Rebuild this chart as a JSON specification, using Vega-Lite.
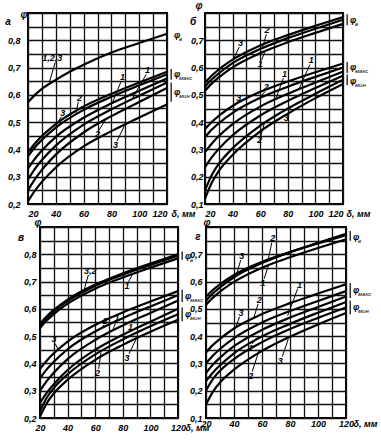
{
"$schema":"https://vega.github.io/schema/vega-lite/v6.json",
"padding":{"left":4,"top":0,"right":2,"bottom":2},
"background":"white",
"datasets":{
"curves":[
{"p":"a","c":"v","x":20,"y":0.573},{"p":"a","c":"v","x":25,"y":0.6},{"p":"a","c":"v","x":30,"y":0.622},{"p":"a","c":"v","x":40,"y":0.655},{"p":"a","c":"v","x":60,"y":0.71},{"p":"a","c":"v","x":80,"y":0.755},{"p":"a","c":"v","x":100,"y":0.79},{"p":"a","c":"v","x":120,"y":0.824},
{"p":"a","c":"M3","x":20,"y":0.39},{"p":"a","c":"M3","x":25,"y":0.422},{"p":"a","c":"M3","x":30,"y":0.449},{"p":"a","c":"M3","x":40,"y":0.493},{"p":"a","c":"M3","x":60,"y":0.557},{"p":"a","c":"M3","x":80,"y":0.604},{"p":"a","c":"M3","x":100,"y":0.645},{"p":"a","c":"M3","x":120,"y":0.685},
{"p":"a","c":"M2","x":20,"y":0.375},{"p":"a","c":"M2","x":25,"y":0.408},{"p":"a","c":"M2","x":30,"y":0.435},{"p":"a","c":"M2","x":40,"y":0.48},{"p":"a","c":"M2","x":60,"y":0.545},{"p":"a","c":"M2","x":80,"y":0.593},{"p":"a","c":"M2","x":100,"y":0.635},{"p":"a","c":"M2","x":120,"y":0.675},
{"p":"a","c":"M1","x":20,"y":0.33},{"p":"a","c":"M1","x":25,"y":0.366},{"p":"a","c":"M1","x":30,"y":0.396},{"p":"a","c":"M1","x":40,"y":0.446},{"p":"a","c":"M1","x":60,"y":0.516},{"p":"a","c":"M1","x":80,"y":0.569},{"p":"a","c":"M1","x":100,"y":0.615},{"p":"a","c":"M1","x":120,"y":0.66},
{"p":"a","c":"m1","x":20,"y":0.29},{"p":"a","c":"m1","x":25,"y":0.329},{"p":"a","c":"m1","x":30,"y":0.361},{"p":"a","c":"m1","x":40,"y":0.414},{"p":"a","c":"m1","x":60,"y":0.491},{"p":"a","c":"m1","x":80,"y":0.547},{"p":"a","c":"m1","x":100,"y":0.597},{"p":"a","c":"m1","x":120,"y":0.645},
{"p":"a","c":"m2","x":20,"y":0.25},{"p":"a","c":"m2","x":25,"y":0.291},{"p":"a","c":"m2","x":30,"y":0.325},{"p":"a","c":"m2","x":40,"y":0.381},{"p":"a","c":"m2","x":60,"y":0.462},{"p":"a","c":"m2","x":80,"y":0.522},{"p":"a","c":"m2","x":100,"y":0.574},{"p":"a","c":"m2","x":120,"y":0.625},
{"p":"a","c":"m3","x":20,"y":0.21},{"p":"a","c":"m3","x":25,"y":0.249},{"p":"a","c":"m3","x":30,"y":0.281},{"p":"a","c":"m3","x":40,"y":0.334},{"p":"a","c":"m3","x":60,"y":0.411},{"p":"a","c":"m3","x":80,"y":0.467},{"p":"a","c":"m3","x":100,"y":0.517},{"p":"a","c":"m3","x":120,"y":0.565},
{"p":"b","c":"v3","x":20,"y":0.545},{"p":"b","c":"v3","x":25,"y":0.571},{"p":"b","c":"v3","x":30,"y":0.593},{"p":"b","c":"v3","x":40,"y":0.629},{"p":"b","c":"v3","x":60,"y":0.681},{"p":"b","c":"v3","x":80,"y":0.719},{"p":"b","c":"v3","x":100,"y":0.753},{"p":"b","c":"v3","x":120,"y":0.785},
{"p":"b","c":"v2","x":20,"y":0.53},{"p":"b","c":"v2","x":25,"y":0.557},{"p":"b","c":"v2","x":30,"y":0.579},{"p":"b","c":"v2","x":40,"y":0.616},{"p":"b","c":"v2","x":60,"y":0.668},{"p":"b","c":"v2","x":80,"y":0.708},{"p":"b","c":"v2","x":100,"y":0.742},{"p":"b","c":"v2","x":120,"y":0.775},
{"p":"b","c":"v1","x":20,"y":0.515},{"p":"b","c":"v1","x":25,"y":0.542},{"p":"b","c":"v1","x":30,"y":0.564},{"p":"b","c":"v1","x":40,"y":0.601},{"p":"b","c":"v1","x":60,"y":0.653},{"p":"b","c":"v1","x":80,"y":0.693},{"p":"b","c":"v1","x":100,"y":0.727},{"p":"b","c":"v1","x":120,"y":0.76},
{"p":"b","c":"M3","x":20,"y":0.375},{"p":"b","c":"M3","x":25,"y":0.401},{"p":"b","c":"M3","x":30,"y":0.423},{"p":"b","c":"M3","x":40,"y":0.459},{"p":"b","c":"M3","x":60,"y":0.511},{"p":"b","c":"M3","x":80,"y":0.549},{"p":"b","c":"M3","x":100,"y":0.583},{"p":"b","c":"M3","x":120,"y":0.615},
{"p":"b","c":"M2","x":20,"y":0.345},{"p":"b","c":"M2","x":25,"y":0.373},{"p":"b","c":"M2","x":30,"y":0.396},{"p":"b","c":"M2","x":40,"y":0.434},{"p":"b","c":"M2","x":60,"y":0.489},{"p":"b","c":"M2","x":80,"y":0.53},{"p":"b","c":"M2","x":100,"y":0.566},{"p":"b","c":"M2","x":120,"y":0.6},
{"p":"b","c":"M1","x":20,"y":0.29},{"p":"b","c":"M1","x":25,"y":0.322},{"p":"b","c":"M1","x":30,"y":0.349},{"p":"b","c":"M1","x":40,"y":0.393},{"p":"b","c":"M1","x":60,"y":0.457},{"p":"b","c":"M1","x":80,"y":0.504},{"p":"b","c":"M1","x":100,"y":0.545},{"p":"b","c":"M1","x":120,"y":0.585},
{"p":"b","c":"m1","x":20,"y":0.235},{"p":"b","c":"m1","x":25,"y":0.272},{"p":"b","c":"m1","x":30,"y":0.302},{"p":"b","c":"m1","x":40,"y":0.352},{"p":"b","c":"m1","x":60,"y":0.424},{"p":"b","c":"m1","x":80,"y":0.478},{"p":"b","c":"m1","x":100,"y":0.525},{"p":"b","c":"m1","x":120,"y":0.57},
{"p":"b","c":"m2","x":20,"y":0.15},{"p":"b","c":"m2","x":25,"y":0.207},{"p":"b","c":"m2","x":30,"y":0.247},{"p":"b","c":"m2","x":40,"y":0.304},{"p":"b","c":"m2","x":60,"y":0.387},{"p":"b","c":"m2","x":80,"y":0.45},{"p":"b","c":"m2","x":100,"y":0.504},{"p":"b","c":"m2","x":120,"y":0.555},
{"p":"b","c":"m3","x":20,"y":0.12},{"p":"b","c":"m3","x":25,"y":0.179},{"p":"b","c":"m3","x":30,"y":0.221},{"p":"b","c":"m3","x":40,"y":0.28},{"p":"b","c":"m3","x":60,"y":0.366},{"p":"b","c":"m3","x":80,"y":0.431},{"p":"b","c":"m3","x":100,"y":0.488},{"p":"b","c":"m3","x":120,"y":0.54},
{"p":"c","c":"v3","x":20,"y":0.545},{"p":"c","c":"v3","x":25,"y":0.573},{"p":"c","c":"v3","x":30,"y":0.596},{"p":"c","c":"v3","x":40,"y":0.634},{"p":"c","c":"v3","x":60,"y":0.689},{"p":"c","c":"v3","x":80,"y":0.73},{"p":"c","c":"v3","x":100,"y":0.766},{"p":"c","c":"v3","x":120,"y":0.8},
{"p":"c","c":"v2","x":20,"y":0.54},{"p":"c","c":"v2","x":25,"y":0.568},{"p":"c","c":"v2","x":30,"y":0.591},{"p":"c","c":"v2","x":40,"y":0.629},{"p":"c","c":"v2","x":60,"y":0.684},{"p":"c","c":"v2","x":80,"y":0.725},{"p":"c","c":"v2","x":100,"y":0.761},{"p":"c","c":"v2","x":120,"y":0.795},
{"p":"c","c":"v1","x":20,"y":0.53},{"p":"c","c":"v1","x":25,"y":0.558},{"p":"c","c":"v1","x":30,"y":0.581},{"p":"c","c":"v1","x":40,"y":0.619},{"p":"c","c":"v1","x":60,"y":0.674},{"p":"c","c":"v1","x":80,"y":0.715},{"p":"c","c":"v1","x":100,"y":0.751},{"p":"c","c":"v1","x":120,"y":0.785},
{"p":"c","c":"M3","x":20,"y":0.38},{"p":"c","c":"M3","x":25,"y":0.411},{"p":"c","c":"M3","x":30,"y":0.437},{"p":"c","c":"M3","x":40,"y":0.48},{"p":"c","c":"M3","x":60,"y":0.541},{"p":"c","c":"M3","x":80,"y":0.587},{"p":"c","c":"M3","x":100,"y":0.627},{"p":"c","c":"M3","x":120,"y":0.665},
{"p":"c","c":"M2","x":20,"y":0.345},{"p":"c","c":"M2","x":25,"y":0.379},{"p":"c","c":"M2","x":30,"y":0.406},{"p":"c","c":"M2","x":40,"y":0.452},{"p":"c","c":"M2","x":60,"y":0.517},{"p":"c","c":"M2","x":80,"y":0.566},{"p":"c","c":"M2","x":100,"y":0.609},{"p":"c","c":"M2","x":120,"y":0.65},
{"p":"c","c":"M1","x":20,"y":0.3},{"p":"c","c":"M1","x":25,"y":0.336},{"p":"c","c":"M1","x":30,"y":0.366},{"p":"c","c":"M1","x":40,"y":0.416},{"p":"c","c":"M1","x":60,"y":0.486},{"p":"c","c":"M1","x":80,"y":0.539},{"p":"c","c":"M1","x":100,"y":0.585},{"p":"c","c":"M1","x":120,"y":0.63},
{"p":"c","c":"m1","x":20,"y":0.255},{"p":"c","c":"m1","x":25,"y":0.293},{"p":"c","c":"m1","x":30,"y":0.324},{"p":"c","c":"m1","x":40,"y":0.376},{"p":"c","c":"m1","x":60,"y":0.45},{"p":"c","c":"m1","x":80,"y":0.505},{"p":"c","c":"m1","x":100,"y":0.553},{"p":"c","c":"m1","x":120,"y":0.6},
{"p":"c","c":"m2","x":20,"y":0.225},{"p":"c","c":"m2","x":25,"y":0.275},{"p":"c","c":"m2","x":30,"y":0.31},{"p":"c","c":"m2","x":40,"y":0.36},{"p":"c","c":"m2","x":60,"y":0.433},{"p":"c","c":"m2","x":80,"y":0.488},{"p":"c","c":"m2","x":100,"y":0.536},{"p":"c","c":"m2","x":120,"y":0.58},
{"p":"c","c":"m3","x":20,"y":0.205},{"p":"c","c":"m3","x":25,"y":0.255},{"p":"c","c":"m3","x":30,"y":0.29},{"p":"c","c":"m3","x":40,"y":0.34},{"p":"c","c":"m3","x":60,"y":0.413},{"p":"c","c":"m3","x":80,"y":0.468},{"p":"c","c":"m3","x":100,"y":0.516},{"p":"c","c":"m3","x":120,"y":0.56},
{"p":"d","c":"v3","x":20,"y":0.545},{"p":"d","c":"v3","x":25,"y":0.57},{"p":"d","c":"v3","x":30,"y":0.59},{"p":"d","c":"v3","x":40,"y":0.624},{"p":"d","c":"v3","x":60,"y":0.672},{"p":"d","c":"v3","x":80,"y":0.708},{"p":"d","c":"v3","x":100,"y":0.74},{"p":"d","c":"v3","x":120,"y":0.77},
{"p":"d","c":"v2","x":20,"y":0.53},{"p":"d","c":"v2","x":25,"y":0.557},{"p":"d","c":"v2","x":30,"y":0.579},{"p":"d","c":"v2","x":40,"y":0.616},{"p":"d","c":"v2","x":60,"y":0.668},{"p":"d","c":"v2","x":80,"y":0.708},{"p":"d","c":"v2","x":100,"y":0.742},{"p":"d","c":"v2","x":120,"y":0.775},
{"p":"d","c":"v1","x":20,"y":0.515},{"p":"d","c":"v1","x":25,"y":0.541},{"p":"d","c":"v1","x":30,"y":0.563},{"p":"d","c":"v1","x":40,"y":0.599},{"p":"d","c":"v1","x":60,"y":0.651},{"p":"d","c":"v1","x":80,"y":0.689},{"p":"d","c":"v1","x":100,"y":0.723},{"p":"d","c":"v1","x":120,"y":0.755},
{"p":"d","c":"M3","x":20,"y":0.34},{"p":"d","c":"M3","x":25,"y":0.368},{"p":"d","c":"M3","x":30,"y":0.39},{"p":"d","c":"M3","x":40,"y":0.428},{"p":"d","c":"M3","x":60,"y":0.481},{"p":"d","c":"M3","x":80,"y":0.521},{"p":"d","c":"M3","x":100,"y":0.556},{"p":"d","c":"M3","x":120,"y":0.59},
{"p":"d","c":"M2","x":20,"y":0.3},{"p":"d","c":"M2","x":25,"y":0.329},{"p":"d","c":"M2","x":30,"y":0.353},{"p":"d","c":"M2","x":40,"y":0.393},{"p":"d","c":"M2","x":60,"y":0.45},{"p":"d","c":"M2","x":80,"y":0.492},{"p":"d","c":"M2","x":100,"y":0.529},{"p":"d","c":"M2","x":120,"y":0.565},
{"p":"d","c":"M1","x":20,"y":0.265},{"p":"d","c":"M1","x":25,"y":0.296},{"p":"d","c":"M1","x":30,"y":0.321},{"p":"d","c":"M1","x":40,"y":0.363},{"p":"d","c":"M1","x":60,"y":0.423},{"p":"d","c":"M1","x":80,"y":0.468},{"p":"d","c":"M1","x":100,"y":0.507},{"p":"d","c":"M1","x":120,"y":0.545},
{"p":"d","c":"m1","x":20,"y":0.235},{"p":"d","c":"m1","x":25,"y":0.267},{"p":"d","c":"m1","x":30,"y":0.293},{"p":"d","c":"m1","x":40,"y":0.337},{"p":"d","c":"m1","x":60,"y":0.399},{"p":"d","c":"m1","x":80,"y":0.445},{"p":"d","c":"m1","x":100,"y":0.486},{"p":"d","c":"m1","x":120,"y":0.525},
{"p":"d","c":"m2","x":20,"y":0.2},{"p":"d","c":"m2","x":25,"y":0.243},{"p":"d","c":"m2","x":30,"y":0.273},{"p":"d","c":"m2","x":40,"y":0.316},{"p":"d","c":"m2","x":60,"y":0.378},{"p":"d","c":"m2","x":80,"y":0.426},{"p":"d","c":"m2","x":100,"y":0.467},{"p":"d","c":"m2","x":120,"y":0.505},
{"p":"d","c":"m3","x":20,"y":0.15},{"p":"d","c":"m3","x":25,"y":0.197},{"p":"d","c":"m3","x":30,"y":0.23},{"p":"d","c":"m3","x":40,"y":0.277},{"p":"d","c":"m3","x":60,"y":0.346},{"p":"d","c":"m3","x":80,"y":0.398},{"p":"d","c":"m3","x":100,"y":0.443},{"p":"d","c":"m3","x":120,"y":0.485}
],
"lab":[
{"p":"a","t":"1,2,3","x":37.5,"y":0.735},{"p":"a","t":"3","x":45,"y":0.535},{"p":"a","t":"2","x":57,"y":0.59},{"p":"a","t":"1","x":88,"y":0.665},{"p":"a","t":"1","x":106,"y":0.69},{"p":"a","t":"2","x":70,"y":0.455},{"p":"a","t":"3","x":83,"y":0.415},
{"p":"b","t":"3","x":45.7,"y":0.69},{"p":"b","t":"2","x":65,"y":0.737},{"p":"b","t":"1","x":60,"y":0.612},{"p":"b","t":"1","x":97,"y":0.626},{"p":"b","t":"1","x":77.6,"y":0.576},{"p":"b","t":"2","x":64.3,"y":0.527},{"p":"b","t":"3","x":44.5,"y":0.49},{"p":"b","t":"2","x":59.5,"y":0.335},{"p":"b","t":"3","x":78.8,"y":0.416},
{"p":"c","t":"3,2","x":56.4,"y":0.739},{"p":"c","t":"1","x":83,"y":0.683},{"p":"c","t":"3","x":30.2,"y":0.488},{"p":"c","t":"2","x":67.1,"y":0.557},{"p":"c","t":"1","x":75.8,"y":0.567},{"p":"c","t":"1","x":85.5,"y":0.533},{"p":"c","t":"2","x":61.7,"y":0.365},{"p":"c","t":"3","x":83.1,"y":0.42},
{"p":"d","t":"3","x":45.5,"y":0.694},{"p":"d","t":"2","x":67.6,"y":0.758},{"p":"d","t":"1","x":60.5,"y":0.595},{"p":"d","t":"2","x":58.1,"y":0.533},{"p":"d","t":"3","x":45,"y":0.486},{"p":"d","t":"1","x":86.7,"y":0.589},{"p":"d","t":"1","x":52,"y":0.357},{"p":"d","t":"2","x":52,"y":0.255},{"p":"d","t":"3","x":73.1,"y":0.31}
],
"ldr":[
{"p":"a","x":39.5,"y":0.718,"x2":35.5,"y2":0.648},{"p":"a","x":44,"y":0.52,"x2":42,"y2":0.503},{"p":"a","x":56.2,"y":0.575,"x2":54.5,"y2":0.532},{"p":"a","x":87,"y":0.65,"x2":80.5,"y2":0.568},{"p":"a","x":105,"y":0.675,"x2":95,"y2":0.586},{"p":"a","x":71,"y":0.47,"x2":76,"y2":0.51},{"p":"a","x":84,"y":0.43,"x2":89.5,"y2":0.488},
{"p":"b","x":44.8,"y":0.675,"x2":40.8,"y2":0.634},{"p":"b","x":64.5,"y":0.722,"x2":61.5,"y2":0.672},{"p":"b","x":61,"y":0.627,"x2":63.6,"y2":0.66},{"p":"b","x":96,"y":0.611,"x2":88,"y2":0.52},{"p":"b","x":76.8,"y":0.561,"x2":71.6,"y2":0.49},{"p":"b","x":63.5,"y":0.512,"x2":59.5,"y2":0.488},{"p":"b","x":43.5,"y":0.476,"x2":41,"y2":0.462},{"p":"b","x":60.5,"y":0.35,"x2":63,"y2":0.395},{"p":"b","x":80,"y":0.43,"x2":86,"y2":0.448},
{"p":"c","x":55,"y":0.724,"x2":52,"y2":0.67},{"p":"c","x":84,"y":0.698,"x2":87.2,"y2":0.728},{"p":"c","x":31,"y":0.473,"x2":33.1,"y2":0.45},{"p":"c","x":66.5,"y":0.542,"x2":63.7,"y2":0.525},{"p":"c","x":75,"y":0.552,"x2":72.7,"y2":0.522},{"p":"c","x":84.8,"y":0.518,"x2":81.7,"y2":0.508},{"p":"c","x":62.5,"y":0.38,"x2":64.2,"y2":0.44},{"p":"c","x":84.5,"y":0.435,"x2":89.7,"y2":0.49},
{"p":"d","x":44.8,"y":0.679,"x2":42.1,"y2":0.632},{"p":"d","x":67,"y":0.743,"x2":64.5,"y2":0.682},{"p":"d","x":61.5,"y":0.61,"x2":64.5,"y2":0.657},{"p":"d","x":57.2,"y":0.518,"x2":54,"y2":0.465},{"p":"d","x":44,"y":0.471,"x2":41.4,"y2":0.435},{"p":"d","x":85.5,"y":0.574,"x2":78.3,"y2":0.475},{"p":"d","x":53,"y":0.372,"x2":56.4,"y2":0.395},{"p":"d","x":53,"y":0.27,"x2":58.1,"y2":0.35},{"p":"d","x":74.5,"y":0.325,"x2":78.8,"y2":0.39}
],
"side":[
{"p":"a","s":"в","y":0.82},{"p":"a","s":"макс","y":0.676},{"p":"a","s":"мин","y":0.61},
{"p":"b","s":"в","y":0.775},{"p":"b","s":"макс","y":0.601},{"p":"b","s":"мин","y":0.55},
{"p":"c","s":"в","y":0.795},{"p":"c","s":"макс","y":0.648},{"p":"c","s":"мин","y":0.58},
{"p":"d","s":"в","y":0.765},{"p":"d","s":"макс","y":0.568},{"p":"d","s":"мин","y":0.505}
],
"brace":[
{"p":"a","y":0.695,"y2":0.655},{"p":"a","y":0.645,"y2":0.575},
{"p":"b","y":0.795,"y2":0.755},{"p":"b","y":0.62,"y2":0.58},{"p":"b","y":0.575,"y2":0.535},
{"p":"c","y":0.81,"y2":0.78},{"p":"c","y":0.67,"y2":0.625},{"p":"c","y":0.605,"y2":0.555},
{"p":"d","y":0.785,"y2":0.75},{"p":"d","y":0.595,"y2":0.54},{"p":"d","y":0.53,"y2":0.48}
]
},
"config":{
"view":{"stroke":"#000","strokeWidth":2},
"axis":{"grid":true,"gridColor":"#111","gridWidth":1.3,"gridOpacity":1,"domain":false,"ticks":false,"labelFont":"Liberation Sans","labelFontStyle":"italic","labelFontWeight":"bold","labelFontSize":9,"labelColor":"#000","labelOverlap":false,"titleFont":"Liberation Sans","titleFontStyle":"italic","titleFontWeight":"bold","titleFontSize":9,"titleColor":"#000"},
"text":{"font":"Liberation Sans","fontStyle":"italic","fontSize":9,"fill":"#000"}
},
"spacing":214,
"bounds":"flush",
"resolve":{"scale":{"x":"independent","y":"independent"},"axis":{"x":"independent","y":"independent"}},
"vconcat":[
{"hconcat":[
{"width":139,"height":191,"resolve":{"axis":{"x":"independent","y":"independent"}},
"layer":[
{"data":{"name":"curves"},"transform":[{"filter":"datum.p=='a'"}],"mark":{"type":"line","interpolate":"monotone","stroke":"#000","strokeWidth":2.2},
"encoding":{"x":{"field":"x","type":"quantitative","scale":{"domain":[20,120],"nice":false,"zero":false},"axis":{"values":[20,30,40,50,60,70,80,90,100,110,120],"labelExpr":"datum.value % 20 == 0 ? datum.label : ''","labelFlush":true,"labelPadding":5,"title":"δ, мм","titleX":143,"titleY":5,"titleAlign":"left","titleBaseline":"top","titleAngle":0}},
"y":{"field":"y","type":"quantitative","scale":{"domain":[0.2,0.9],"nice":false,"zero":false},"axis":{"values":[0.2,0.25,0.3,0.35,0.4,0.45,0.5,0.55,0.6,0.65,0.7,0.75,0.8,0.85,0.9],"labelExpr":"(datum.value < 0.85 && round(datum.value*100) % 10 == 0) ? replace(format(datum.value,'.1f'),'.',',') : ''","labelPadding":8,"title":null}},
"detail":{"field":"c"}}},
{"data":{"name":"ldr"},"transform":[{"filter":"datum.p=='a'"}],"mark":{"type":"rule","stroke":"#000","strokeWidth":1},"encoding":{"x":{"field":"x","type":"quantitative","axis":null},"y":{"field":"y","type":"quantitative","axis":null},"x2":{"field":"x2"},"y2":{"field":"y2"}}},
{"data":{"name":"lab"},"transform":[{"filter":"datum.p=='a'"}],"mark":{"type":"text","fill":"#000","fontWeight":"bold"},"encoding":{"x":{"field":"x","type":"quantitative","axis":null},"y":{"field":"y","type":"quantitative","axis":null},"text":{"field":"t"}}},
{"data":{"name":"brace"},"transform":[{"filter":"datum.p=='a'"}],"mark":{"type":"rule","stroke":"#000","strokeWidth":1.2},"encoding":{"x":{"datum":123,"axis":null},"y":{"field":"y","type":"quantitative","axis":null},"y2":{"field":"y2"}}},
{"data":{"name":"side"},"transform":[{"filter":"datum.p=='a'"}],"mark":{"type":"text","align":"left","dx":7,"fontSize":9,"fill":"#000","fontWeight":"bold"},"encoding":{"x":{"datum":120,"axis":null},"y":{"field":"y","type":"quantitative","axis":null},"text":{"value":"φ"}}},
{"data":{"name":"side"},"transform":[{"filter":"datum.p=='a'"}],"mark":{"type":"text","align":"left","dx":12,"dy":4,"fontSize":6,"fill":"#000"},"encoding":{"x":{"datum":120,"axis":null},"y":{"field":"y","type":"quantitative","axis":null},"text":{"field":"s"}}},
{"data":{"values":[{"t":"а"}]},"mark":{"type":"text","dx":-20,"dy":9,"fontSize":10,"fill":"#000","fontWeight":"bold"},"encoding":{"x":{"datum":20,"axis":null},"y":{"datum":0.9,"axis":null},"text":{"field":"t"}}},
{"data":{"values":[{"t":"φ"}]},"mark":{"type":"text","dx":-4,"dy":2,"fontSize":10,"fill":"#000","fontWeight":"bold"},"encoding":{"x":{"datum":20,"axis":null},"y":{"datum":0.9,"axis":null},"text":{"field":"t"}}}
]},
{"width":138,"height":191,"resolve":{"axis":{"x":"independent","y":"independent"}},
"layer":[
{"data":{"name":"curves"},"transform":[{"filter":"datum.p=='b'"}],"mark":{"type":"line","interpolate":"monotone","stroke":"#000","strokeWidth":2.2},
"encoding":{"x":{"field":"x","type":"quantitative","scale":{"domain":[20,120],"nice":false,"zero":false},"axis":{"values":[20,30,40,50,60,70,80,90,100,110,120],"labelExpr":"datum.value % 20 == 0 ? datum.label : ''","labelFlush":true,"labelPadding":5,"title":"δ, мм","titleX":141,"titleY":5,"titleAlign":"left","titleBaseline":"top","titleAngle":0}},
"y":{"field":"y","type":"quantitative","scale":{"domain":[0.1,0.8],"nice":false,"zero":false},"axis":{"values":[0.1,0.15,0.2,0.25,0.3,0.35,0.4,0.45,0.5,0.55,0.6,0.65,0.7,0.75,0.8],"labelExpr":"(datum.value < 0.75 && round(datum.value*100) % 10 == 0) ? replace(format(datum.value,'.1f'),'.',',') : ''","labelPadding":2,"title":null}},
"detail":{"field":"c"}}},
{"data":{"name":"ldr"},"transform":[{"filter":"datum.p=='b'"}],"mark":{"type":"rule","stroke":"#000","strokeWidth":1},"encoding":{"x":{"field":"x","type":"quantitative","axis":null},"y":{"field":"y","type":"quantitative","axis":null},"x2":{"field":"x2"},"y2":{"field":"y2"}}},
{"data":{"name":"lab"},"transform":[{"filter":"datum.p=='b'"}],"mark":{"type":"text","fill":"#000","fontWeight":"bold"},"encoding":{"x":{"field":"x","type":"quantitative","axis":null},"y":{"field":"y","type":"quantitative","axis":null},"text":{"field":"t"}}},
{"data":{"name":"brace"},"transform":[{"filter":"datum.p=='b'"}],"mark":{"type":"rule","stroke":"#000","strokeWidth":1.2},"encoding":{"x":{"datum":123,"axis":null},"y":{"field":"y","type":"quantitative","axis":null},"y2":{"field":"y2"}}},
{"data":{"name":"side"},"transform":[{"filter":"datum.p=='b'"}],"mark":{"type":"text","align":"left","dx":7,"fontSize":9,"fill":"#000","fontWeight":"bold"},"encoding":{"x":{"datum":120,"axis":null},"y":{"field":"y","type":"quantitative","axis":null},"text":{"value":"φ"}}},
{"data":{"name":"side"},"transform":[{"filter":"datum.p=='b'"}],"mark":{"type":"text","align":"left","dx":12,"dy":4,"fontSize":6,"fill":"#000"},"encoding":{"x":{"datum":120,"axis":null},"y":{"field":"y","type":"quantitative","axis":null},"text":{"field":"s"}}},
{"data":{"values":[{"t":"б"}]},"mark":{"type":"text","dx":-12,"dy":9,"fontSize":10,"fill":"#000","fontWeight":"bold"},"encoding":{"x":{"datum":20,"axis":null},"y":{"datum":0.8,"axis":null},"text":{"field":"t"}}},
{"data":{"values":[{"t":"φ"}]},"mark":{"type":"text","dx":-6,"dy":-7,"fontSize":10,"fill":"#000","fontWeight":"bold"},"encoding":{"x":{"datum":20,"axis":null},"y":{"datum":0.8,"axis":null},"text":{"field":"t"}}}
]}
],"spacing":38,"bounds":"flush","resolve":{"scale":{"x":"independent","y":"independent"},"axis":{"x":"independent","y":"independent"}}},
{"hconcat":[
{"hconcat":[
{"width":1,"height":1,"view":{"stroke":null},"data":{"values":[{"k":0}]},"mark":{"type":"point","opacity":0},"encoding":{}},
{"width":138,"height":191,"resolve":{"axis":{"x":"independent","y":"independent"}},
"layer":[
{"data":{"name":"curves"},"transform":[{"filter":"datum.p=='c'"}],"mark":{"type":"line","interpolate":"monotone","stroke":"#000","strokeWidth":2.2},
"encoding":{"x":{"field":"x","type":"quantitative","scale":{"domain":[20,120],"nice":false,"zero":false},"axis":{"values":[20,30,40,50,60,70,80,90,100,110,120],"labelExpr":"datum.value % 20 == 0 ? datum.label : ''","labelFlush":false,"labelPadding":5,"title":"δ, мм","titleX":145,"titleY":5,"titleAlign":"left","titleBaseline":"top","titleAngle":0}},
"y":{"field":"y","type":"quantitative","scale":{"domain":[0.2,0.9],"nice":false,"zero":false},"axis":{"values":[0.2,0.25,0.3,0.35,0.4,0.45,0.5,0.55,0.6,0.65,0.7,0.75,0.8,0.85,0.9],"labelExpr":"(datum.value < 0.85 && round(datum.value*100) % 10 == 0) ? replace(format(datum.value,'.1f'),'.',',') : ''","labelPadding":4,"title":null}},
"detail":{"field":"c"}}},
{"data":{"name":"ldr"},"transform":[{"filter":"datum.p=='c'"}],"mark":{"type":"rule","stroke":"#000","strokeWidth":1},"encoding":{"x":{"field":"x","type":"quantitative","axis":null},"y":{"field":"y","type":"quantitative","axis":null},"x2":{"field":"x2"},"y2":{"field":"y2"}}},
{"data":{"name":"lab"},"transform":[{"filter":"datum.p=='c'"}],"mark":{"type":"text","fill":"#000","fontWeight":"bold"},"encoding":{"x":{"field":"x","type":"quantitative","axis":null},"y":{"field":"y","type":"quantitative","axis":null},"text":{"field":"t"}}},
{"data":{"name":"brace"},"transform":[{"filter":"datum.p=='c'"}],"mark":{"type":"rule","stroke":"#000","strokeWidth":1.2},"encoding":{"x":{"datum":123,"axis":null},"y":{"field":"y","type":"quantitative","axis":null},"y2":{"field":"y2"}}},
{"data":{"name":"side"},"transform":[{"filter":"datum.p=='c'"}],"mark":{"type":"text","align":"left","dx":7,"fontSize":9,"fill":"#000","fontWeight":"bold"},"encoding":{"x":{"datum":120,"axis":null},"y":{"field":"y","type":"quantitative","axis":null},"text":{"value":"φ"}}},
{"data":{"name":"side"},"transform":[{"filter":"datum.p=='c'"}],"mark":{"type":"text","align":"left","dx":12,"dy":4,"fontSize":6,"fill":"#000"},"encoding":{"x":{"datum":120,"axis":null},"y":{"field":"y","type":"quantitative","axis":null},"text":{"field":"s"}}},
{"data":{"values":[{"t":"в"}]},"mark":{"type":"text","dx":-19,"dy":11,"fontSize":10,"fill":"#000","fontWeight":"bold"},"encoding":{"x":{"datum":20,"axis":null},"y":{"datum":0.9,"axis":null},"text":{"field":"t"}}},
{"data":{"values":[{"t":"φ"}]},"mark":{"type":"text","dx":-2,"dy":-4,"fontSize":10,"fill":"#000","fontWeight":"bold"},"encoding":{"x":{"datum":20,"axis":null},"y":{"datum":0.9,"axis":null},"text":{"field":"t"}}}
]}
],"spacing":11,"bounds":"flush","resolve":{"scale":{"x":"independent","y":"independent"},"axis":{"x":"independent","y":"independent"}}},
{"width":140,"height":191,"resolve":{"axis":{"x":"independent","y":"independent"}},
"layer":[
{"data":{"name":"curves"},"transform":[{"filter":"datum.p=='d'"}],"mark":{"type":"line","interpolate":"monotone","stroke":"#000","strokeWidth":2.2},
"encoding":{"x":{"field":"x","type":"quantitative","scale":{"domain":[20,120],"nice":false,"zero":false},"axis":{"values":[20,30,40,50,60,70,80,90,100,110,120],"labelExpr":"datum.value % 20 == 0 ? datum.label : ''","labelFlush":false,"labelPadding":1,"title":"δ, мм","titleX":147,"titleY":1,"titleAlign":"left","titleBaseline":"top","titleAngle":0}},
"y":{"field":"y","type":"quantitative","scale":{"domain":[0.1,0.8],"nice":false,"zero":false},"axis":{"values":[0.1,0.15,0.2,0.25,0.3,0.35,0.4,0.45,0.5,0.55,0.6,0.65,0.7,0.75,0.8],"labelExpr":"(datum.value < 0.75 && round(datum.value*100) % 10 == 0) ? replace(format(datum.value,'.1f'),'.',',') : ''","labelPadding":4,"title":null}},
"detail":{"field":"c"}}},
{"data":{"name":"ldr"},"transform":[{"filter":"datum.p=='d'"}],"mark":{"type":"rule","stroke":"#000","strokeWidth":1},"encoding":{"x":{"field":"x","type":"quantitative","axis":null},"y":{"field":"y","type":"quantitative","axis":null},"x2":{"field":"x2"},"y2":{"field":"y2"}}},
{"data":{"name":"lab"},"transform":[{"filter":"datum.p=='d'"}],"mark":{"type":"text","fill":"#000","fontWeight":"bold"},"encoding":{"x":{"field":"x","type":"quantitative","axis":null},"y":{"field":"y","type":"quantitative","axis":null},"text":{"field":"t"}}},
{"data":{"name":"brace"},"transform":[{"filter":"datum.p=='d'"}],"mark":{"type":"rule","stroke":"#000","strokeWidth":1.2},"encoding":{"x":{"datum":123,"axis":null},"y":{"field":"y","type":"quantitative","axis":null},"y2":{"field":"y2"}}},
{"data":{"name":"side"},"transform":[{"filter":"datum.p=='d'"}],"mark":{"type":"text","align":"left","dx":7,"fontSize":9,"fill":"#000","fontWeight":"bold"},"encoding":{"x":{"datum":120,"axis":null},"y":{"field":"y","type":"quantitative","axis":null},"text":{"value":"φ"}}},
{"data":{"name":"side"},"transform":[{"filter":"datum.p=='d'"}],"mark":{"type":"text","align":"left","dx":12,"dy":4,"fontSize":6,"fill":"#000"},"encoding":{"x":{"datum":120,"axis":null},"y":{"field":"y","type":"quantitative","axis":null},"text":{"field":"s"}}},
{"data":{"values":[{"t":"г"}]},"mark":{"type":"text","dx":-8,"dy":10,"fontSize":10,"fill":"#000","fontWeight":"bold"},"encoding":{"x":{"datum":20,"axis":null},"y":{"datum":0.8,"axis":null},"text":{"field":"t"}}},
{"data":{"values":[{"t":"φ"}]},"mark":{"type":"text","dx":1,"dy":-4,"fontSize":10,"fill":"#000","fontWeight":"bold"},"encoding":{"x":{"datum":20,"axis":null},"y":{"datum":0.8,"axis":null},"text":{"field":"t"}}}
]}
],"spacing":178,"bounds":"flush","resolve":{"scale":{"x":"independent","y":"independent"},"axis":{"x":"independent","y":"independent"}}}
]
}
